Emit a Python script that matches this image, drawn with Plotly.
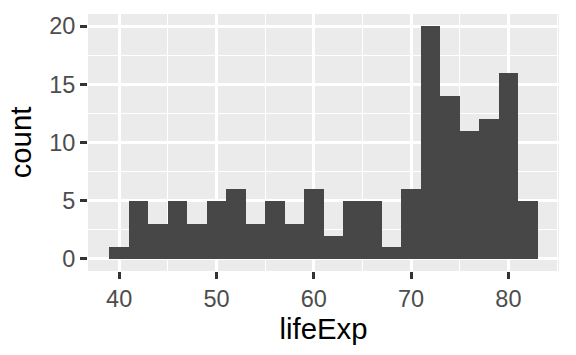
import plotly.graph_objects as go

bin_left = [39, 41, 43, 45, 47, 49, 51, 53, 55, 57, 59, 61, 63, 65, 67, 69, 71, 73, 75, 77, 79, 81]
counts = [1, 5, 3, 5, 3, 5, 6, 3, 5, 3, 6, 2, 5, 5, 1, 6, 20, 14, 11, 12, 16, 5]
bin_width = 2
x_ticks = [40, 50, 60, 70, 80]
y_ticks = [0, 5, 10, 15, 20]

centers = [b + bin_width / 2 for b in bin_left]

fig = go.Figure(go.Bar(
    x=centers, y=counts, width=bin_width,
    marker=dict(color="#474747", line=dict(width=0)),
    hoverinfo="x+y",
))

font = "Liberation Sans, Arial, sans-serif"
fig.update_layout(
    width=576, height=355,
    margin=dict(l=88, r=17, t=14, b=84),
    paper_bgcolor="white", plot_bgcolor="#EBEBEB",
    showlegend=False, bargap=0,
    font=dict(family=font),
)
fig.update_xaxes(
    range=[36.8, 85.2], tickvals=x_ticks, ticktext=[str(v) for v in x_ticks],
    showgrid=True, gridcolor="white", gridwidth=2.7,
    minor=dict(dtick=5, tick0=0, showgrid=True, gridcolor="white", gridwidth=1.4),
    ticks="outside", ticklen=7, tickwidth=2.7, tickcolor="#333333",
    tickfont=dict(size=23.5, color="#4D4D4D", family=font),
    title=dict(text="lifeExp", font=dict(size=29.3, color="black", family=font), standoff=4),
    zeroline=False, showline=False,
)
fig.update_yaxes(
    range=[-1.05, 21.05], tickvals=y_ticks, ticktext=[str(v) for v in y_ticks],
    showgrid=True, gridcolor="white", gridwidth=2.7,
    minor=dict(dtick=2.5, tick0=0, showgrid=True, gridcolor="white", gridwidth=1.4),
    ticks="outside", ticklen=7, tickwidth=2.7, tickcolor="#333333",
    tickfont=dict(size=23.5, color="#4D4D4D", family=font),
    title=dict(text="count", font=dict(size=29.3, color="black", family=font), standoff=8),
    zeroline=False, showline=False,
)

fig.write_html("out.html")
